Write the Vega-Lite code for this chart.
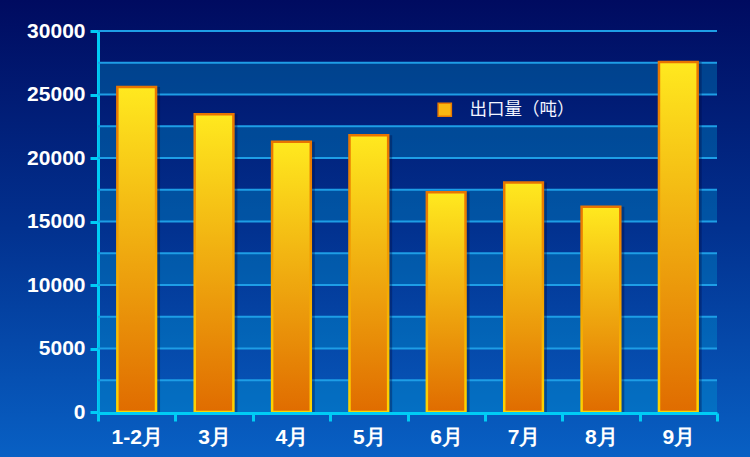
{
  "$schema": "https://vega.github.io/schema/vega-lite/v6.json",
  "width": 750,
  "height": 457,
  "padding": 0,
  "autosize": {"type": "none"},
  "background": "#04339a",
  "datasets": {
    "exports": [
      {"month": "1-2月", "tons": 25600},
      {"month": "3月", "tons": 23450},
      {"month": "4月", "tons": 21270},
      {"month": "5月", "tons": 21800},
      {"month": "6月", "tons": 17300},
      {"month": "7月", "tons": 18080},
      {"month": "8月", "tons": 16170},
      {"month": "9月", "tons": 27560}
    ],
    "bands": [
      {"lo": 0, "hi": 2500},
      {"lo": 5000, "hi": 7500},
      {"lo": 10000, "hi": 12500},
      {"lo": 15000, "hi": 17500},
      {"lo": 20000, "hi": 22500},
      {"lo": 25000, "hi": 27500}
    ],
    "gridlines": [
      {"level": 2500}, {"level": 5000}, {"level": 7500}, {"level": 10000},
      {"level": 12500}, {"level": 15000}, {"level": 17500}, {"level": 20000},
      {"level": 22500}, {"level": 25000}, {"level": 27500}, {"level": 30000}
    ]
  },
  "layer": [
    {
      "data": {"name": "bands"},
      "mark": {"type": "rect", "fill": "#00a8dc", "opacity": 0.3},
      "encoding": {
        "x": {"datum": "1-2月", "type": "nominal", "bandPosition": 0, "axis": {"title": null}},
        "x2": {"datum": "9月", "bandPosition": 1},
        "y": {"field": "lo", "type": "quantitative", "axis": {"title": null}},
        "y2": {"field": "hi"}
      }
    },
    {
      "data": {"name": "gridlines"},
      "mark": {"type": "rule", "color": "#1e9ee6", "strokeWidth": 2},
      "encoding": {
        "x": {"datum": "1-2月", "type": "nominal", "bandPosition": 0, "axis": {"title": null}},
        "x2": {"datum": "9月", "bandPosition": 1},
        "y": {"field": "level", "type": "quantitative", "axis": {"title": null}}
      }
    },
    {
      "data": {"name": "exports"},
      "mark": {"type": "bar", "fill": "#000a40", "opacity": 0.35, "xOffset": 4, "width": {"band": 0.5}},
      "encoding": {
        "x": {"field": "month", "type": "nominal", "sort": null, "axis": {"title": null}},
        "y": {"field": "tons", "type": "quantitative", "axis": {"title": null}}
      }
    },
    {
      "data": {"name": "exports"},
      "mark": {"type": "bar", "opacity": 0, "width": {"band": 0.5}},
      "encoding": {
        "x": {"field": "month", "type": "nominal", "sort": null, "axis": {"title": null}},
        "y": {"field": "tons", "type": "quantitative", "axis": {"title": null}},
        "fill": {
          "datum": "出口量（吨）",
          "type": "nominal",
          "scale": {"range": ["#f8b812"]},
          "legend": {
            "title": null,
            "orient": "none",
            "legendX": 436,
            "legendY": 101,
            "symbolType": "square",
            "symbolSize": 175,
            "symbolStrokeColor": "#e87a00",
            "symbolStrokeWidth": 1.5,
            "symbolOpacity": 1,
            "labelFont": "Noto Sans CJK SC",
            "labelFontSize": 17.5,
            "labelColor": "#f2f4ff",
            "labelOffset": 16
          }
        }
      }
    },
    {
      "data": {"name": "exports"},
      "mark": {
        "type": "bar",
        "width": {"band": 0.5},
        "strokeWidth": 2.5,
        "fill": {
          "gradient": "linear", "x1": 0, "y1": 0, "x2": 0, "y2": 1,
          "stops": [{"offset": 0, "color": "#ffe91f"}, {"offset": 1, "color": "#e06c00"}]
        },
        "stroke": {
          "gradient": "linear", "x1": 0, "y1": 0, "x2": 0, "y2": 1,
          "stops": [{"offset": 0, "color": "#e87400"}, {"offset": 1, "color": "#ffd400"}]
        }
      },
      "encoding": {
        "x": {
          "field": "month",
          "type": "nominal",
          "sort": null,
          "scale": {
            "domain": ["1-2月", "3月", "4月", "5月", "6月", "7月", "8月", "9月"],
            "range": [98, 717],
            "paddingInner": 0,
            "paddingOuter": 0
          },
          "axis": {"title": null}
        },
        "y": {
          "field": "tons",
          "type": "quantitative",
          "scale": {"domain": [0, 30000], "range": [412, 31], "nice": false},
          "axis": {
            "title": null,
            "values": [0, 5000, 10000, 15000, 20000, 25000, 30000]
          }
        }
      }
    }
  ],
  "config": {
    "view": {
      "stroke": null,
      "fill": {
        "gradient": "linear", "x1": 0, "y1": 0, "x2": 0, "y2": 1,
        "stops": [{"offset": 0, "color": "#000b60"}, {"offset": 0.5, "color": "#02318f"}, {"offset": 1, "color": "#0860c4"}]
      }
    },
    "axis": {
      "domainColor": "#00ccf5",
      "domainWidth": 3,
      "tickColor": "#00ccf5",
      "tickWidth": 3,
      "tickSize": 8,
      "labelColor": "#ffffff",
      "labelFont": "Liberation Sans",
      "labelFontWeight": "bold",
      "labelFontSize": 21,
      "grid": false
    },
    "axisX": {
      "offset": -44,
      "tickBand": "extent",
      "labelAngle": 0,
      "labelPadding": 5
    },
    "axisY": {
      "offset": -98,
      "format": "d",
      "labelPadding": 5
    }
  }
}
